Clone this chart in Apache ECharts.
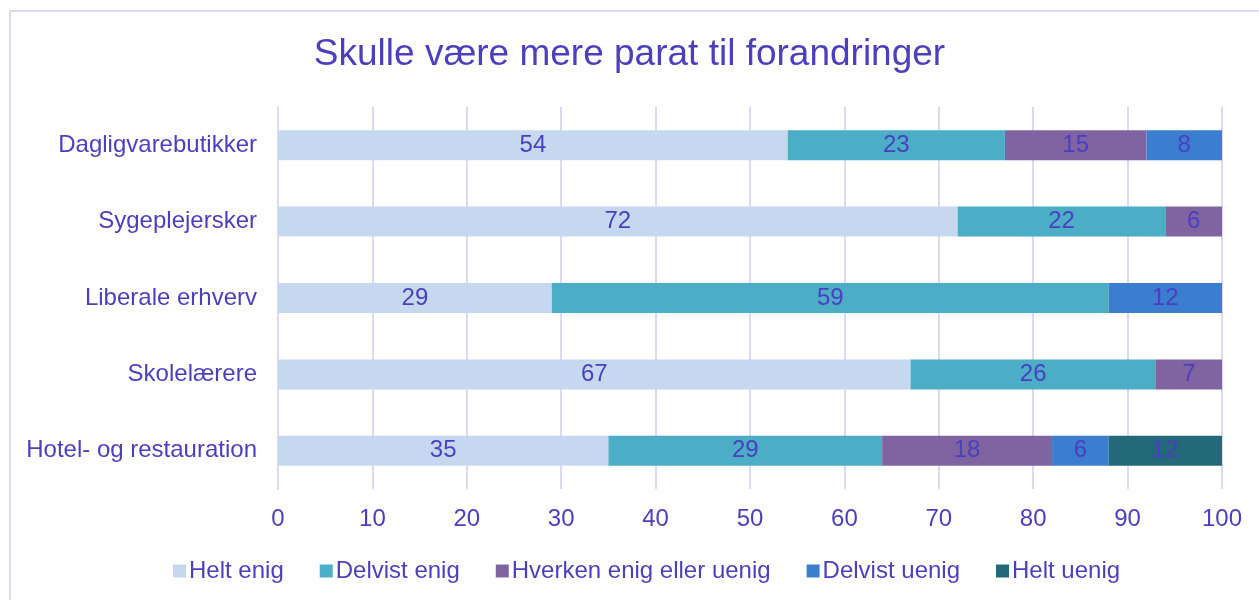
<!DOCTYPE html>
<html><head><meta charset="utf-8">
<script src="https://cdn.jsdelivr.net/npm/echarts@6/dist/echarts.min.js"></script>
<style>html,body{margin:0;padding:0;background:#fff}#c{width:1259px;height:600px}
#frame{position:absolute;left:9px;top:10px;width:1260px;height:600px;border:2px solid #dcd9f3;box-sizing:border-box;pointer-events:none}</style>
</head><body><div id="c"></div><div id="frame"></div>
<script>
const categories = ["Dagligvarebutikker","Sygeplejersker","Liberale erhverv","Skolelærere","Hotel- og restauration"];
const seriesNames = ["Helt enig","Delvist enig","Hverken enig eller uenig","Delvist uenig","Helt uenig"];
const heltEnig = [54,72,29,67,35];
const delvistEnig = [23,22,59,26,29];
const hverken = [15,6,0,7,18];
const delvistUenig = [8,0,12,0,6];
const heltUenig = [0,0,0,0,12];
const xTicks = [0,10,20,30,40,50,60,70,80,90,100];
const colors = ["#c6d8f0","#4badc6","#8064a2","#3b7dce","#24697a"];
const txt = "#4b3fbf";
const values = [heltEnig,delvistEnig,hverken,delvistUenig,heltUenig];
const chart = echarts.init(document.getElementById('c'));
chart.setOption({
  animation:false,
  title:{text:"Skulle være mere parat til forandringer",left:'center',top:31,textStyle:{color:txt,fontFamily:'Liberation Sans',fontSize:37,fontWeight:'normal'}},
  legend:{top:554,left:168,itemWidth:13,itemHeight:13,itemGap:36,icon:'rect',textStyle:{color:txt,fontFamily:'Liberation Sans',fontSize:24,padding:[0,0,0,-2]},data:seriesNames},
  grid:{left:278,right:37,top:107,bottom:111},
  xAxis:{type:'value',min:0,max:100,interval:10,
    axisLabel:{color:txt,fontFamily:'Liberation Sans',fontSize:24,margin:18,formatter:v=>xTicks.includes(v)?String(v):''},
    splitLine:{show:true,lineStyle:{color:'#dcd9f3',width:2}},axisLine:{show:false},axisTick:{show:false}},
  yAxis:{type:'category',data:categories,inverse:true,
    axisLabel:{color:txt,fontFamily:'Liberation Sans',fontSize:24,margin:21},
    axisLine:{show:true,lineStyle:{color:'#dcd9f3',width:2}},axisTick:{show:false}},
  series:seriesNames.map((n,i)=>({name:n,type:'bar',stack:'s',barWidth:30,
    itemStyle:{color:colors[i]},
    data:values[i].map(v=>v===0?null:v),
    label:{show:true,position:'inside',color:txt,fontFamily:'Liberation Sans',fontSize:24}}))
});
</script></body></html>
